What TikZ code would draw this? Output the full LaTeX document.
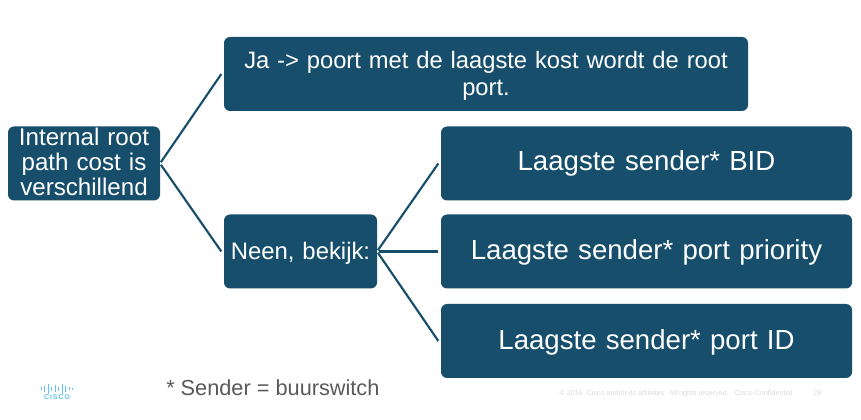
\documentclass[tikz,border=0pt]{standalone}
\usepackage{fontspec}
\setmainfont{Liberation Sans}
\newfontfamily\logofont[LetterSpace=14]{Liberation Sans}
\definecolor{boxblue}{HTML}{164E6B}
\definecolor{logoblue}{HTML}{5CC4EE}
\definecolor{notegray}{HTML}{595959}
\definecolor{footgray}{HTML}{DADADA}
\newcommand\dropby[2]{\raisebox{-#1}[\height][\depth]{#2}}
\tikzset{
  px/.style={x=0.75pt,y=-0.75pt},
  tbox/.style={fill=boxblue,rounded corners=4.5pt,inner sep=0pt,outer sep=0pt,align=center,text=white,minimum height=55.5pt,anchor=center},
  link/.style={draw=boxblue,line width=1.6pt,shorten <=1.2pt},
  logobar/.style={draw=logoblue,line width=0.75pt},
}
\begin{document}
\begin{tikzpicture}[px]
\useasboundingbox (0,0) rectangle (861,420);
\node[tbox,text width=114pt,font=\fontsize{18.1}{18.75}\selectfont] (root) at (84,163.5) {\dropby{-0.9pt}{Internal root}\\\dropby{-0.9pt}{path cost is}\\\dropby{-0.9pt}{verschillend}};
\node[tbox,text width=393pt,font=\fontsize{17.8}{20.3}\selectfont] (ja) at (486,74) {\dropby{1.5pt}{Ja -> poort met de laagste kost wordt de root}\\\dropby{1.5pt}{port.}};
\node[tbox,text width=114.75pt,font=\fontsize{17.9}{20}\selectfont] (neen) at (300.5,251.5) {\dropby{1.5pt}{Neen, bekijk:}};
\node[tbox,text width=308.25pt,font=\fontsize{20.7}{24}\selectfont] (a) at (646.5,163.5) {Laagste sender* BID};
\node[tbox,text width=308.25pt,font=\fontsize{20.7}{24}\selectfont] (b) at (646.5,251.5) {\dropby{0.75pt}{Laagste sender* port priority}};
\node[tbox,text width=308.25pt,font=\fontsize{20.7}{24}\selectfont] (c) at (646.5,341) {\dropby{0.75pt}{Laagste sender* port ID}};
\draw[link] (root.east) -- ([xshift=-2pt]ja.west);
\draw[link] (root.east) -- ([xshift=-2pt]neen.west);
\draw[link] (neen.east) -- ([xshift=-2pt]a.west);
\draw[link] (neen.east) -- ([xshift=-2pt]b.west);
\draw[link] (neen.east) -- ([xshift=-2pt]c.west);
\node[anchor=west,inner sep=0pt,text=notegray,font=\fontsize{16.3}{18}\selectfont] (note) at (166,388) {* Sender = buurswitch};
\node[anchor=west,inner sep=0pt,text=footgray,font=\fontsize{5.4}{6}\selectfont] (foot) at (559,393.5) {© 2016\ \ Cisco and/or its affiliates. All rights reserved.\ \ \ Cisco Confidential};
\node[anchor=west,inner sep=0pt,text=footgray,font=\fontsize{5.4}{6}\selectfont] (page) at (813,393.5) {28};
\foreach \x/\h in {41/1.5,44.5/3,48/5,51.5/2,55/3.5,58.5/2,62/5,65.5/3,69/1.5,72.5/1}{
  \draw[logobar] (\x,389-\h) -- (\x,389+\h);
}
\node[inner sep=0pt,text=logoblue,font=\logofont\bfseries\fontsize{5.2}{6}\selectfont] (logo) at (57,397.5) {CISCO};
\end{tikzpicture}
\end{document}
